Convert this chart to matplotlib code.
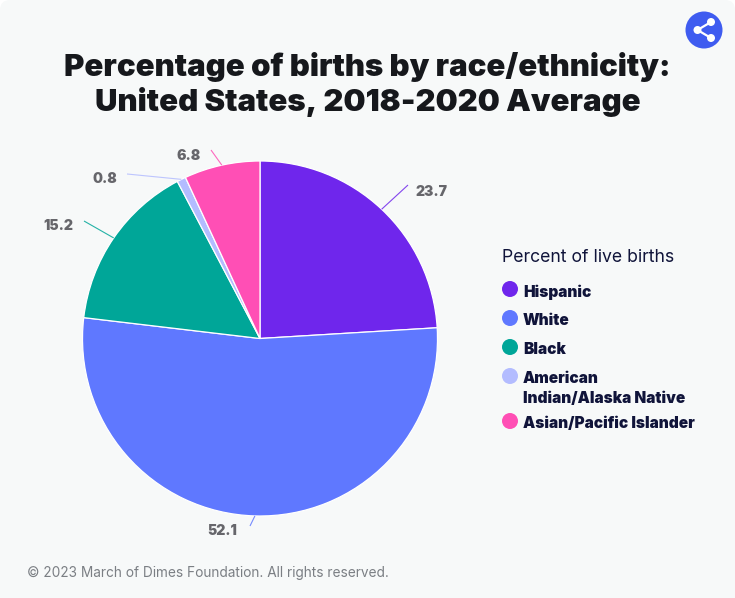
"""Percentage of births by race/ethnicity pie, March of Dimes style."""
import numpy as np
import matplotlib
matplotlib.use("Agg")
import matplotlib.pyplot as plt
from matplotlib.patches import Circle, FancyBboxPatch

W, H = 735, 598

categories = ["Hispanic", "White", "Black", "American\nIndian/Alaska Native", "Asian/Pacific Islander"]
values = [23.7, 52.1, 15.2, 0.8, 6.8]
colors = ["#6f26ec", "#5f78ff", "#00a698", "#b3bcff", "#ff4fb5"]

title = "Percentage of births by race/ethnicity:\nUnited States, 2018-2020 Average"
legend_title = "Percent of live births"
footer = "© 2023 March of Dimes Foundation. All rights reserved."

BG = "#f7f9f9"
INK = "#10143a"

plt.rcParams["font.family"] = ["Inter", "Roboto", "DejaVu Sans"]


def y(py):
    # work in reference pixels, measured from the top
    return H - py


fig = plt.figure(figsize=(W / 100, H / 100), dpi=100, facecolor="white")
ax = fig.add_axes([0, 0, 1, 1])
# only the top corners are rounded, the bottom runs off the canvas
ax.add_patch(FancyBboxPatch((0, -30), W, H + 30, boxstyle="round,pad=0,rounding_size=10",
                            fc=BG, ec="none", zorder=0))

cx, cy, r = 260, y(338.5), 177.5
wedges, _ = ax.pie(values, colors=colors, startangle=90, counterclock=False, radius=r,
                   center=(cx, cy), frame=True,
                   wedgeprops={"edgecolor": "white", "linewidth": 0.9})
ax.set_xlim(0, W)
ax.set_ylim(0, H)
ax.set_aspect("equal")
ax.axis("off")

# leader lines start on the rim of each wedge, end points and labels
line_ends = [(408, 185), (250, 526), (84, 221), (127, 174), (211, 150)]
label_pos = [(431.5, 192), (222, 531), (58, 226), (105, 179), (188.5, 156)]
for w, color, val, end, pos in zip(wedges, colors, values, line_ends, label_pos):
    mid = np.deg2rad((w.theta1 + w.theta2) / 2)
    ax.plot([cx + r * np.cos(mid), end[0]], [cy + r * np.sin(mid), y(end[1])],
            color=color, lw=0.8, alpha=0.85, zorder=1, solid_capstyle="butt")
    ax.text(pos[0], y(pos[1]), f"{val}", color="#66666b", fontsize=10.1, fontweight="black",
            ha="center", va="center")

ax.text(367.5, y(84.5), title, ha="center", va="center", fontsize=22.4, fontweight="black",
        color="#16181c", linespacing=1.24)

# legend drawn by hand so the rows keep the reference spacing
ax.text(502, y(257.5), legend_title, fontsize=12.7, color=INK, ha="left", va="center")
legend_ys = [289, 318, 347, 376, 421]
text_ys = [292, 320.5, 349.5, 388.5, 424]
for name, color, ly, ty in zip(categories, colors, legend_ys, text_ys):
    ax.add_patch(Circle((510, y(ly)), 8, fc=color, ec="none"))
    ax.text(523, y(ty), name, fontsize=11.1, fontweight="black", color=INK, ha="left",
            va="center", linespacing=1.35)

ax.text(27, y(573), footer, fontsize=9.85, color="#7b7f84", ha="left", va="center")

# share button
sx, sy = 704, y(30)
ax.add_patch(Circle((sx, sy), 18.5, fc="#3f5cf0", ec="none"))
nodes = [(sx + 7, sy + 8), (sx - 6.5, sy), (sx + 7, sy - 8)]
ax.plot(*zip(*nodes), color="white", lw=1.6, zorder=3)
for n in nodes:
    ax.add_patch(Circle(n, 4, fc="white", ec="none", zorder=4))

fig.savefig("out.png", dpi=100)
